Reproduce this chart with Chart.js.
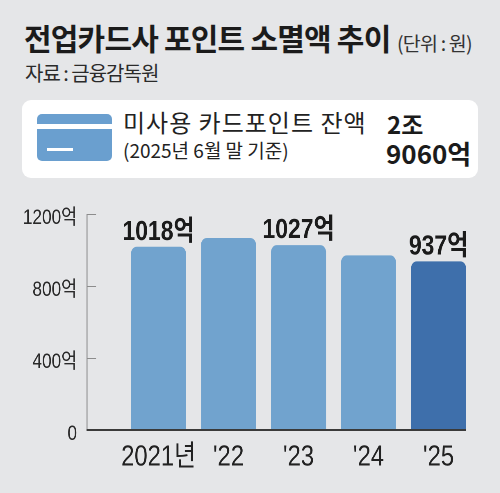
<!DOCTYPE html>
<html><head><meta charset="utf-8">
<script src="https://cdn.jsdelivr.net/npm/chart.js@4.4.1/dist/chart.umd.min.js"></script>
<style>
html,body{margin:0;padding:0;background:#e5e6e8;width:500px;height:493px;overflow:hidden;font-family:'Noto Sans CJK KR',sans-serif;}
.abs{position:absolute;white-space:nowrap;line-height:1;}
</style></head><body>
<div class="abs" style="left:24px;top:22px;font-size:30px;font-weight:700;color:#1b1b1b;letter-spacing:-0.8px;">전업카드사 포인트 소멸액 추이</div>
<div class="abs" style="left:397px;top:33px;font-size:19.5px;color:#333;letter-spacing:-0.8px;">(단위 : 원)</div>
<div class="abs" style="left:25px;top:63px;font-size:20px;color:#2a2a2a;letter-spacing:-1px;">자료 : 금융감독원</div>
<div class="abs" style="left:22px;top:100px;width:456px;height:78px;background:#fff;border-radius:9px;"></div>
<div class="abs" style="left:37px;top:114px;width:75px;height:47px;background:#6a9fcf;border-radius:5px;"></div>
<div class="abs" style="left:37px;top:124px;width:75px;height:5px;background:#fff;"></div>
<div class="abs" style="left:47px;top:148px;width:26px;height:3px;background:#fff;"></div>
<div class="abs" style="left:123px;top:110px;font-size:24px;color:#222;letter-spacing:1px;">미사용 카드포인트 잔액</div>
<div class="abs" style="left:123px;top:140px;font-size:19px;color:#222;">(2025년 6월 말 기준)</div>
<div class="abs" style="left:387px;top:112px;font-size:24px;font-weight:700;color:#1b1b1b;">2조</div>
<div class="abs" style="left:386px;top:140px;font-size:26px;font-weight:700;color:#1b1b1b;">9060억</div>
<canvas id="c" width="610" height="303" style="position:absolute;left:0;top:190px;width:610px;height:303px;transform:scaleX(0.82);transform-origin:0 0;"></canvas>
<script>
const categories = ['2021년', "'22", "'23", "'24", "'25"];
const values = [1018, 1067, 1027, 970, 937];
const showValue = [true, false, true, false, true];
const barColors = ['#71a3ce', '#71a3ce', '#71a3ce', '#71a3ce', '#3e6fab'];
const yMin = 0, yMax = 1200, yStep = 400;
const unit = '억';

const FONT = "'Liberation Sans', 'Noto Sans CJK KR', sans-serif";

const decor = {
  id: 'decor',
  afterDatasetsDraw(chart) {
    const ctx = chart.ctx;
    const y = chart.scales.y;
    const meta = chart.getDatasetMeta(0);
    const axisX = chart.chartArea.left - 44.5;
    const y0 = y.getPixelForValue(0);
    ctx.save();
    ctx.strokeStyle = '#8c8c8c';
    ctx.lineWidth = 1.25;
    ctx.beginPath();
    ctx.moveTo(axisX, Math.round(y.getPixelForValue(yMax)));
    ctx.lineTo(axisX, y0);
    ctx.stroke();
    ctx.lineWidth = 1;
    y.ticks.forEach(t => {
      if (t.value === 0) return;
      const py = Math.round(y.getPixelForValue(t.value)) + 0.5;
      ctx.beginPath();
      ctx.moveTo(axisX, py);
      ctx.lineTo(axisX + 11, py);
      ctx.stroke();
    });
    const last = meta.data[meta.data.length - 1];
    ctx.strokeStyle = '#3a3a3a';
    ctx.lineWidth = 2;
    ctx.beginPath();
    ctx.moveTo(axisX - 0.6, y0);
    ctx.lineTo(last.x + last.width / 2, y0);
    ctx.stroke();
    ctx.fillStyle = '#1b1b1b';
    ctx.textBaseline = 'alphabetic';
    ctx.textAlign = 'center';
    ctx.font = "bold 28px " + FONT;
    meta.data.forEach((bar, i) => {
      if (!showValue[i]) return;
      ctx.fillText(values[i] + unit, bar.x, bar.y - 7);
    });
    ctx.restore();
  }
};

new Chart(document.getElementById('c'), {
  type: 'bar',
  data: {
    labels: categories,
    datasets: [{
      data: values,
      backgroundColor: barColors,
      categoryPercentage: 1,
      barPercentage: 0.786,
      borderRadius: { topLeft: 7, topRight: 7, bottomLeft: 0, bottomRight: 0 },
      borderSkipped: false
    }]
  },
  options: {
    responsive: false,
    animation: false,
    devicePixelRatio: 2,
    layout: { padding: { top: 24, right: 32.5, left: 0, bottom: 0 } },
    plugins: { legend: { display: false }, tooltip: { enabled: false } },
    scales: {
      x: {
        grid: { display: false, drawTicks: false },
        border: { display: false },
        ticks: { color: '#222', font: { family: FONT, size: 29 }, padding: 10, maxRotation: 0, minRotation: 0, autoSkip: false },
        afterFit(s) { s.height = 63; s.paddingLeft = 0; s.paddingRight = 0; }
      },
      y: {
        min: yMin, max: yMax,
        grid: { display: false, drawTicks: false },
        border: { display: false },
        ticks: {
          stepSize: yStep,
          color: '#2a2a2a',
          font: { family: FONT, size: 21 },
          padding: 56.7,
          labelOffset: 4,
          callback: v => v === 0 ? '0' : v + unit
        },
        afterFit(s) { s.width = 150.6; s.paddingTop = 0; s.paddingBottom = 0; }
      }
    }
  },
  plugins: [decor]
});
</script>
</body></html>
